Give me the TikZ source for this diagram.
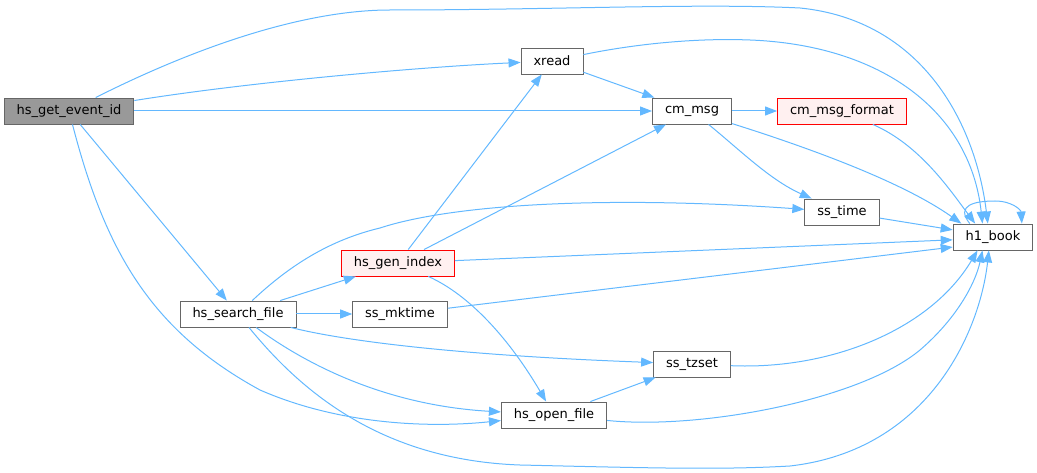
\documentclass[tikz,border=0pt]{standalone}
\usepackage{fontspec}
\setmainfont{DejaVu Sans}
\usepackage{tikz}
\usetikzlibrary{arrows.meta}
\definecolor{edgeblue}{HTML}{63B8FF}
\definecolor{boxgray}{HTML}{666666}
\definecolor{curfill}{HTML}{999999}
\definecolor{redfill}{HTML}{FFF0F0}
\tikzset{
call/.style={-{Triangle[length=12pt,width=9pt]}, draw=edgeblue, line width=1pt}, % every call edge
}

\begin{document}
\begin{tikzpicture}[x=1pt, y=-1pt,
    main/.style = {draw=boxgray, line width=0.9pt, fill=white, rectangle, minimum height=26pt, inner ysep=0pt, inner xsep=12.5pt, font=\fontsize{13}{15}\selectfont},
    cur/.style = {main, fill=curfill},
    red/.style = {main, draw=red, fill=redfill}]
    \useasboundingbox (0,0) rectangle (1037,473);
    \node[cur] (1) at (69,111) {hs\_get\_event\_id};
    \node[main] (2) at (552,61) {xread};
    \node[main] (3) at (692,111) {cm\_msg};
    \node[red] (4) at (842,111) {cm\_msg\_format};
    \node[main] (5) at (842,212) {ss\_time};
    \node[main] (6) at (993,237) {h1\_book};
    \node[red] (7) at (398,263) {hs\_gen\_index};
    \node[main] (8) at (238,314) {hs\_search\_file};
    \node[main] (9) at (400,314) {ss\_mktime};
    \node[main] (10) at (692,364) {ss\_tzset};
    \node[main] (11) at (554,415) {hs\_open\_file};
    \begin{scope}[call]
    % hs_get_event_id
    \draw (1) .. controls (190,50) and (300,10) .. (390,10) .. controls (550,10) and (700,3) .. (800,8) .. controls (920,20) and (975,120) .. (6.111);
    \draw (1) .. controls (250,82) and (420,67) .. (2);
    \draw (1) -- (3);
    \draw (1) -- (8);
    \draw (1) .. controls (105,250) and (150,330) .. (260,390) .. controls (340,425) and (430,428) .. (11);
    % xread, cm_msg
    \draw (2) .. controls (640,43) and (700,38) .. (750,40) .. controls (880,45) and (970,110) .. (6.128);
    \draw (2) -- (3);
    \draw (3) -- (4);
    \draw (3) .. controls (740,150) and (770,180) .. (5);
    \draw (3) .. controls (800,145) and (900,180) .. (6.157);
    \draw (4) .. controls (920,145) and (950,190) .. (6.143);
    \draw (5) -- (6.170);
    \draw (6.150) .. controls (955,205) and (975,201) .. (995,201) .. controls (1012,201) and (1021,210) .. (6.25);
    % hs_gen_index
    \draw (7) -- (2);
    \draw (7) -- (3);
    \draw (7) -- (6.184);
    \draw (7) .. controls (470,295) and (510,340) .. (11);
    % hs_search_file
    \draw (8) .. controls (290,265) and (330,240) .. (380,228) .. controls (450,205) and (600,195) .. (5);
    \draw (8) -- (7);
    \draw (8) -- (9);
    \draw (8) .. controls (340,340) and (450,355) .. (10);
    \draw (8) .. controls (300,360) and (380,405) .. (11);
    \draw (8) .. controls (300,390) and (380,460) .. (520,465) .. controls (650,468) and (720,470) .. (790,466) .. controls (930,450) and (980,330) .. (6.253);
    % the rest
    \draw (9) -- (6.194);
    \draw (11) -- (10);
    \draw (11) .. controls (700,430) and (860,400) .. (920,350) .. controls (955,320) and (975,285) .. (6.232);
    \draw (10) .. controls (830,370) and (930,330) .. (6.221);
    \end{scope}
\end{tikzpicture}
\end{document}
